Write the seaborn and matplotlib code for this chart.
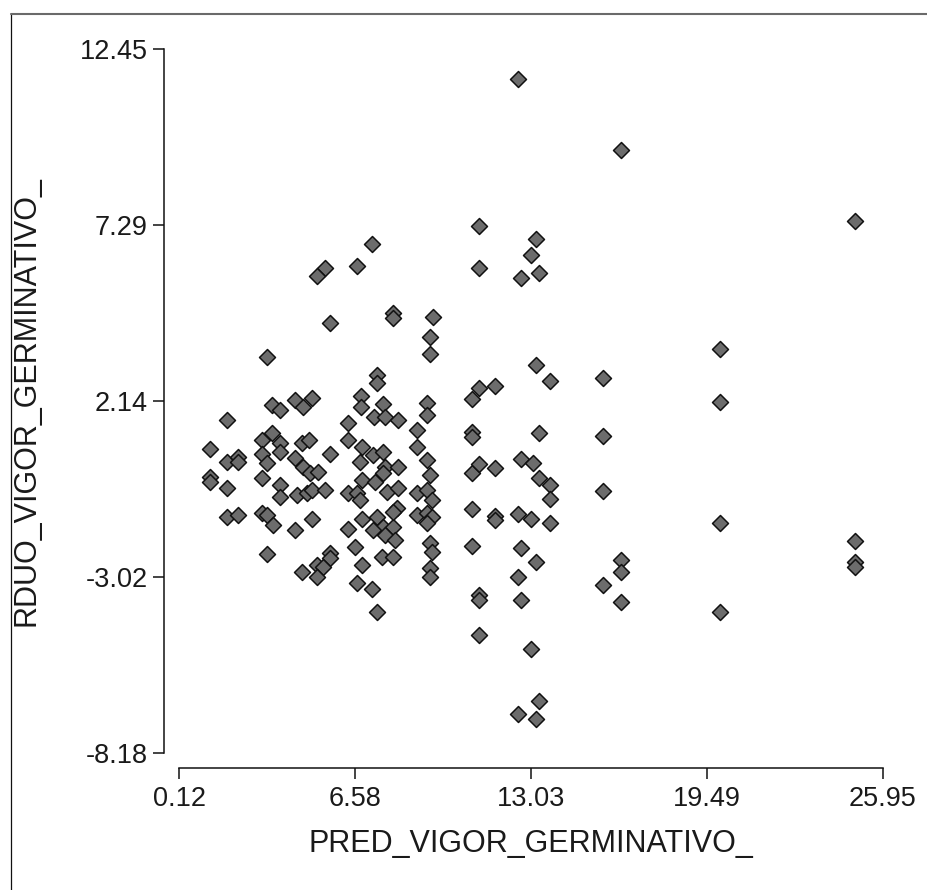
import pandas as pd
import seaborn as sns
import matplotlib.pyplot as plt
from matplotlib.lines import Line2D

pred = [
    5.66, 7.97, 7.97, 9.43, 9.32, 9.32, 3.35, 7.38, 7.38, 9.21,
    9.21, 3.53, 3.82, 4.37, 4.67, 5.00, 6.79, 6.79, 7.60, 7.27,
    7.67, 8.15, 1.88, 6.32, 8.85, 8.85, 1.26, 3.16, 3.53, 3.82,
    3.82, 4.63, 4.89, 5.66, 6.32, 6.83, 3.16, 3.35, 1.88, 2.28,
    2.28, 4.37, 4.67, 4.92, 5.22, 6.76, 7.23, 7.60, 7.67, 8.15,
    9.21, 9.32, 1.26, 1.26, 3.16, 1.88, 3.82, 3.82, 4.45, 4.81,
    5.00, 5.47, 6.32, 6.65, 6.76, 6.83, 7.31, 7.60, 7.75, 8.15,
    8.85, 9.21, 9.40, 1.88, 2.28, 3.16, 3.35, 3.57, 5.00, 4.37,
    6.32, 6.83, 7.38, 7.60, 7.97, 7.67, 8.04, 7.23, 8.11, 7.97,
    8.85, 9.21, 9.40, 9.21, 6.57, 9.32, 9.40, 3.35, 5.66, 5.66,
    5.18, 5.40, 4.63, 5.18, 6.83, 7.56, 7.97, 9.32, 9.32, 6.65,
    7.20, 7.20, 5.47, 5.18, 6.65, 13.23, 13.74, 15.67, 11.12, 10.86,
    11.73, 10.86, 10.86, 13.34, 15.67, 10.86, 11.12, 11.73, 12.68, 13.10,
    13.34, 13.74, 13.74, 15.67, 10.86, 11.73, 11.73, 12.57, 13.05, 13.74,
    10.86, 12.68, 13.23, 16.35, 16.35, 15.67, 12.57, 11.12, 11.12, 12.68,
    16.35, 12.57, 16.35, 11.12, 11.12, 13.23, 13.05, 13.34, 12.68, 24.91,
    11.12, 13.05, 13.34, 12.57, 13.23, 7.38, 19.96, 19.96, 19.96, 19.96,
    24.91, 24.91, 24.91,
]
residuo = [
    4.42, 4.72, 4.57, 4.60, 4.01, 3.51, 3.43, 2.90, 2.66, 2.08,
    1.73, 2.02, 1.87, 2.17, 1.96, 2.22, 2.28, 1.96, 2.05, 1.67,
    1.67, 1.58, 1.58, 1.49, 1.29, 0.79, 0.73, 0.99, 1.20, 0.91,
    0.64, 0.91, 0.99, 0.58, 0.99, 0.79, 0.58, 0.32, 0.35, 0.49,
    0.35, 0.47, 0.20, 0.03, 0.05, 0.35, 0.55, 0.64, 0.20, 0.20,
    0.41, -0.03, -0.09, -0.24, -0.12, -0.42, -0.33, -0.68, -0.62, -0.56,
    -0.47, -0.47, -0.56, -0.56, -0.77, -0.18, -0.24, 0.03, -0.53, -0.42,
    -0.56, -0.47, -0.77, -1.27, -1.21, -1.15, -1.21, -1.50, -1.32, -1.65,
    -1.62, -1.32, -1.27, -1.56, -1.56, -1.79, -1.94, -1.65, -1.00, -1.12,
    -1.21, -1.15, -1.27, -1.44, -2.15, -2.03, -2.29, -2.35, -2.32, -2.47,
    -2.67, -2.73, -2.88, -3.02, -2.67, -2.44, -2.44, -2.76, -3.02, -3.20,
    -3.38, 6.74, 6.04, 5.80, 6.10, 3.19, 2.72, 2.81, 2.52, 2.20,
    2.58, 1.23, 1.08, 1.20, 1.11, 0.03, 0.29, 0.17, 0.44, 0.32,
    -0.12, -0.33, -0.74, -0.50, -1.03, -1.24, -1.35, -1.18, -1.32, -1.44,
    -2.12, -2.17, -2.59, -2.53, -2.88, -3.26, -3.02, -3.55, -3.70, -3.70,
    -3.76, 11.58, 9.50, 7.27, 6.04, 6.89, 6.42, 5.89, 5.74, 7.41,
    -4.73, -5.14, -6.66, -7.04, -7.19, -4.05, 3.66, 2.11, -1.44, -4.05,
    -1.97, -2.59, -2.73,
]

xticks = [0.12, 6.58, 13.03, 19.49, 25.95]
yticks = [-8.18, -3.02, 2.14, 7.29, 12.45]

df = pd.DataFrame({'PRED_VIGOR_GERMINATIVO_': pred, 'RDUO_VIGOR_GERMINATIVO_': residuo})

sns.set_theme(style="ticks")
plt.rcParams['font.family'] = ['Liberation Sans', 'DejaVu Sans']
plt.rcParams['axes.unicode_minus'] = False

fig = plt.figure(figsize=(9.27, 8.90), dpi=100)
ax = fig.add_axes((179 / 927, 137 / 890, 704 / 927, 704 / 890))

sns.scatterplot(data=df, x='PRED_VIGOR_GERMINATIVO_', y='RDUO_VIGOR_GERMINATIVO_',
                marker='D', s=66, color='#6c6c6c', edgecolor='#111111', linewidth=1.1,
                ax=ax, legend=False, clip_on=False, zorder=3)

ax.set_xlim(xticks[0], xticks[-1])
ax.set_ylim(yticks[0], yticks[-1])
ax.set_xticks(xticks, [f'{v:.2f}' for v in xticks])
ax.set_yticks(yticks, [f'{v:.2f}' for v in yticks])
ax.tick_params(axis='both', direction='out', length=8, width=1.1, color='#111111',
               labelsize=19.5, labelcolor='#1a1a1a')
ax.tick_params(axis='x', pad=5)
ax.tick_params(axis='y', pad=3.6)

sns.despine(ax=ax, offset=11)
for lado in ['left', 'bottom']:
    ax.spines[lado].set_linewidth(1.1)
    ax.spines[lado].set_color('#111111')

ax.set_xlabel('PRED_VIGOR_GERMINATIVO_', fontsize=22, color='#1a1a1a')
ax.set_ylabel('RDUO_VIGOR_GERMINATIVO_', fontsize=22, color='#1a1a1a')
ax.xaxis.set_label_coords(0.5, -0.108)
ax.yaxis.set_label_coords(-0.196, 0.5)

# moldura parcial (topo e esquerda) como na imagem original
fig.add_artist(Line2D([10.5 / 927, 10.5 / 927], [0, 1 - 13.5 / 890],
                      transform=fig.transFigure, color='#111111', lw=0.9))
fig.add_artist(Line2D([10.5 / 927, 1], [1 - 13.5 / 890, 1 - 13.5 / 890],
                      transform=fig.transFigure, color='#6a6a6a', lw=1.5))

fig.savefig('out.png', dpi=100)
